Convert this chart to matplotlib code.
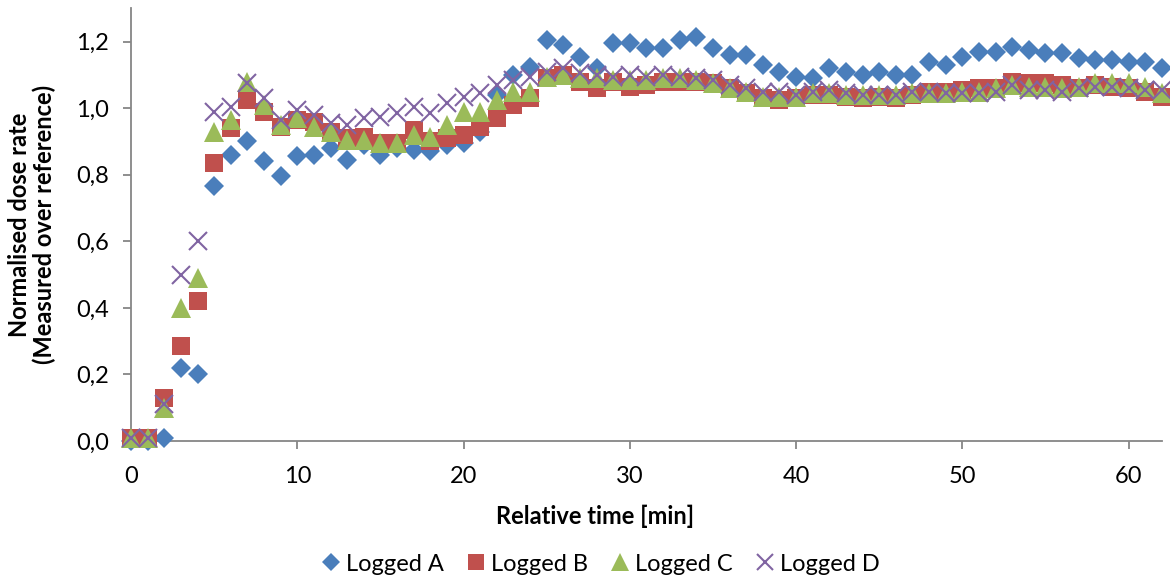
import matplotlib
matplotlib.use("Agg")
import matplotlib.pyplot as plt
from matplotlib.ticker import FuncFormatter, MultipleLocator

plt.rcParams['font.family'] = ['Lato', 'DejaVu Sans']

time_min = list(range(63))
logged_a = [0.0, 0.0, 0.01, 0.22, 0.20, 0.765, 0.86, 0.90, 0.84, 0.795,
            0.855, 0.86, 0.88, 0.845, 0.89, 0.86, 0.88, 0.875, 0.87, 0.89,
            0.895, 0.93, 1.04, 1.10, 1.125, 1.205, 1.19, 1.155, 1.12, 1.195,
            1.195, 1.18, 1.18, 1.205, 1.215, 1.18, 1.16, 1.16, 1.13, 1.11,
            1.095, 1.09, 1.12, 1.11, 1.10, 1.11, 1.10, 1.10, 1.14, 1.13,
            1.155, 1.17, 1.17, 1.185, 1.175, 1.165, 1.165, 1.15, 1.145, 1.145,
            1.14, 1.14, 1.12]
logged_b = [0.01, 0.01, 0.13, 0.285, 0.42, 0.835, 0.94, 1.025, 0.99, 0.945,
            0.965, 0.96, 0.93, 0.91, 0.915, 0.895, 0.895, 0.935, 0.90, 0.91,
            0.92, 0.945, 0.97, 1.01, 1.03, 1.09, 1.10, 1.08, 1.06, 1.08,
            1.065, 1.07, 1.08, 1.08, 1.08, 1.075, 1.06, 1.045, 1.03, 1.025,
            1.03, 1.04, 1.04, 1.035, 1.03, 1.035, 1.03, 1.04, 1.05, 1.05,
            1.055, 1.06, 1.06, 1.08, 1.075, 1.075, 1.07, 1.06, 1.07, 1.065,
            1.06, 1.05, 1.035]
logged_c = [0.01, 0.01, 0.10, 0.40, 0.49, 0.93, 0.965, 1.08, 1.01, 0.95,
            0.97, 0.945, 0.93, 0.905, 0.905, 0.895, 0.895, 0.92, 0.915, 0.95,
            0.99, 0.99, 1.025, 1.05, 1.05, 1.095, 1.10, 1.09, 1.09, 1.085,
            1.085, 1.085, 1.09, 1.09, 1.085, 1.075, 1.06, 1.05, 1.035, 1.035,
            1.035, 1.045, 1.045, 1.04, 1.04, 1.04, 1.04, 1.045, 1.045, 1.045,
            1.05, 1.05, 1.06, 1.07, 1.065, 1.065, 1.06, 1.065, 1.075, 1.075,
            1.075, 1.065, 1.045]
logged_d = [0.01, 0.01, 0.11, 0.50, 0.60, 0.99, 1.005, 1.075, 1.03, 0.965,
            0.995, 0.98, 0.955, 0.95, 0.97, 0.975, 0.985, 1.005, 0.985, 1.015,
            1.035, 1.045, 1.07, 1.085, 1.095, 1.11, 1.12, 1.105, 1.10, 1.095,
            1.10, 1.095, 1.10, 1.095, 1.09, 1.085, 1.07, 1.06, 1.05, 1.05,
            1.04, 1.05, 1.055, 1.045, 1.04, 1.04, 1.04, 1.05, 1.05, 1.045,
            1.045, 1.045, 1.05, 1.07, 1.055, 1.055, 1.05, 1.06, 1.065, 1.065,
            1.06, 1.055, 1.055]

series_names = ['Logged A', 'Logged B', 'Logged C', 'Logged D']

fig = plt.figure(figsize=(11.7, 5.83), dpi=100)
ax = fig.add_axes([0.112, 0.2436, 0.881, 0.742])

ax.plot(time_min, logged_a, linestyle='none', marker='D', markersize=10.5,
        color='#4A7EBB', markeredgewidth=0, label=series_names[0], clip_on=False, zorder=3)
ax.plot(time_min, logged_b, linestyle='none', marker='s', markersize=13.5,
        color='#C0504D', markeredgewidth=0, label=series_names[1], clip_on=False, zorder=4)
ax.plot(time_min, logged_c, linestyle='none', marker='^', markersize=14,
        color='#9BBB59', markeredgewidth=0, label=series_names[2], clip_on=False, zorder=5)
ax.plot(time_min, logged_d, linestyle='none', marker='x', markersize=13,
        color='#8064A2', markeredgewidth=1.5, label=series_names[3], clip_on=False, zorder=6)

ax.set_xlim(0, 62)
ax.set_ylim(0, 1.3)
ax.xaxis.set_major_locator(MultipleLocator(10))
ax.yaxis.set_major_locator(MultipleLocator(0.2))
ax.yaxis.set_major_formatter(FuncFormatter(lambda v, p: f"{v:.1f}".replace('.', ',')))

for s in ['top', 'right']:
    ax.spines[s].set_visible(False)
for s in ['left', 'bottom']:
    ax.spines[s].set_color('#868686')
    ax.spines[s].set_linewidth(1.3)
ax.tick_params(axis='both', colors='#868686', length=6, width=1.3, labelsize=17,
               labelcolor='black', direction='out')
ax.tick_params(axis='x', pad=12)
ax.tick_params(axis='y', pad=10)

ax.set_xlabel('Relative time [min]', fontsize=17, fontweight='bold', labelpad=14)
ax.xaxis.set_label_coords(0.45, -0.147)
ax.set_ylabel('Normalised dose rate\n(Measured over reference)', fontsize=17,
              fontweight='bold', labelpad=14, linespacing=1.1)

fig.legend(loc='lower center', bbox_to_anchor=(0.513, -0.022), ncol=4, frameon=False,
           fontsize=17, handlelength=0.9, handletextpad=0.2, columnspacing=0.9,
           markerscale=0.9)

fig.savefig('out.png', dpi=100)
